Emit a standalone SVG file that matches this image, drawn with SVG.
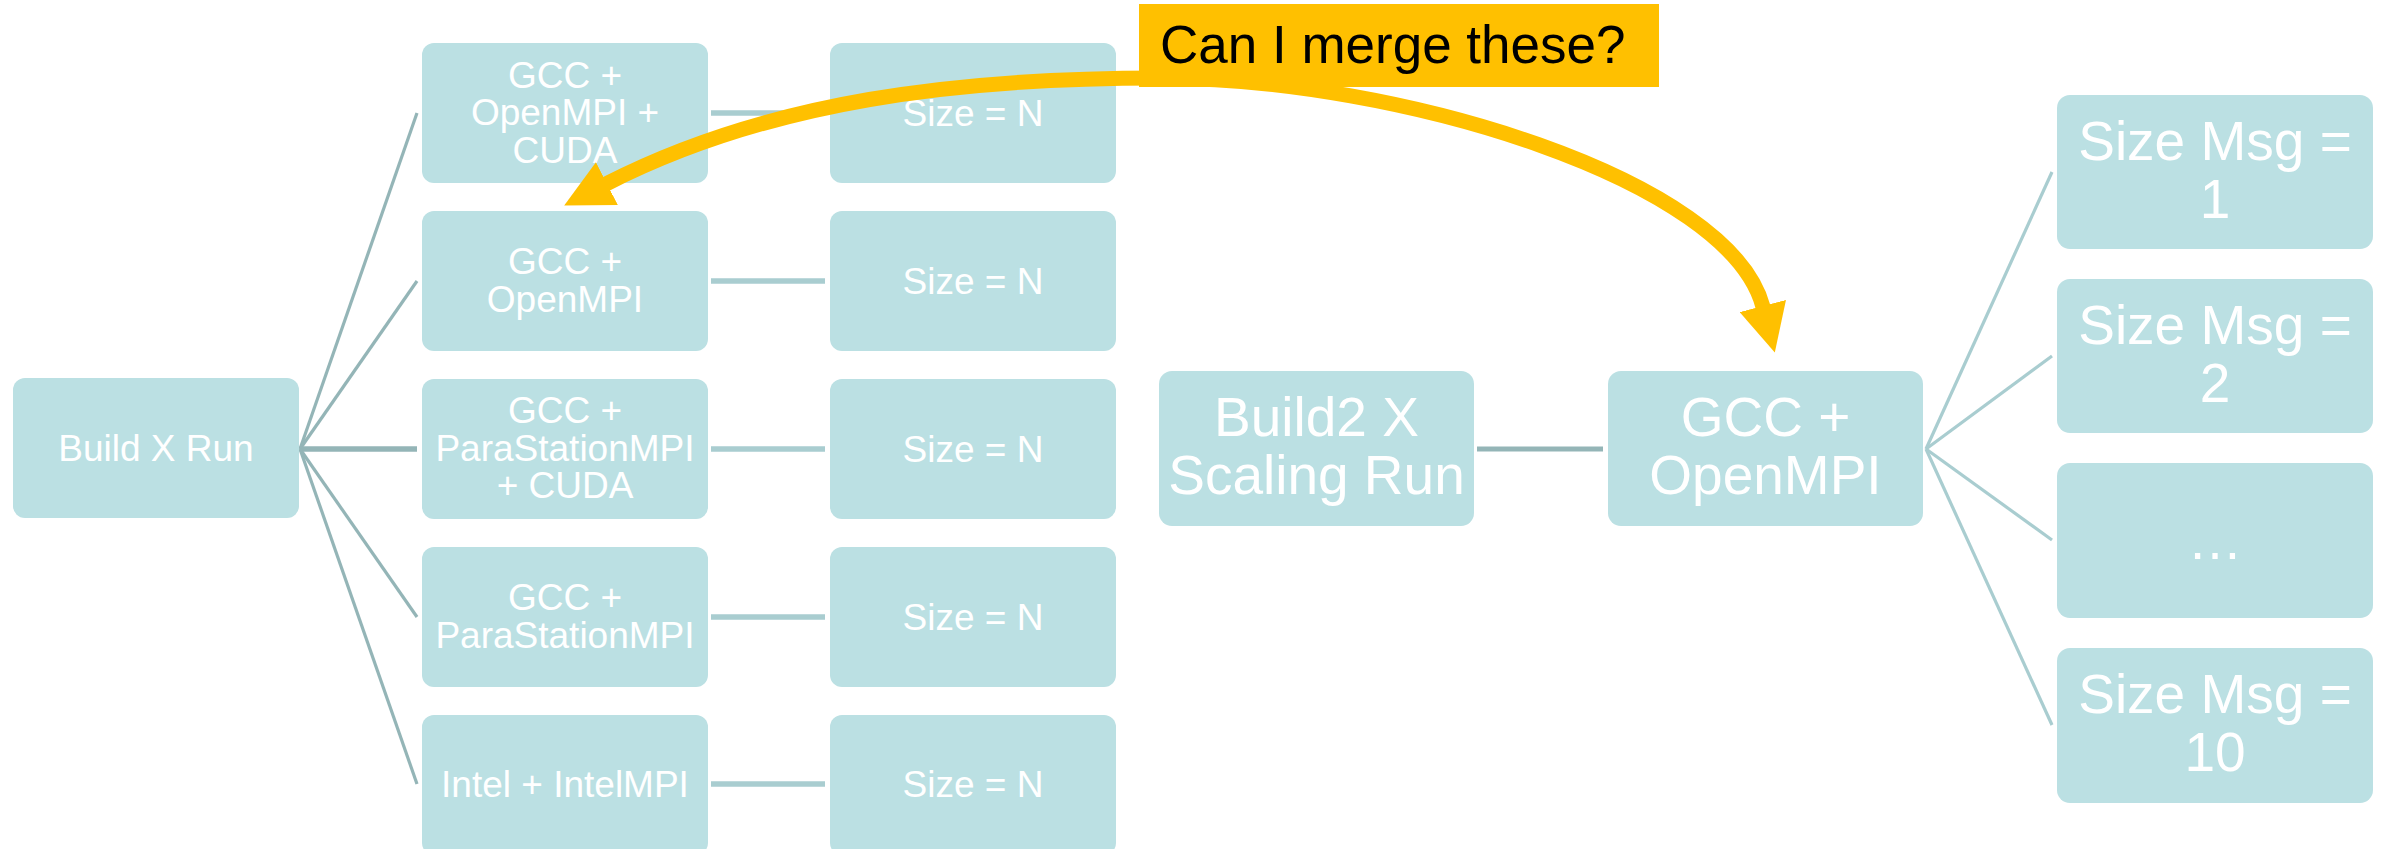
<svg xmlns="http://www.w3.org/2000/svg" width="2387" height="849" viewBox="0 0 2387 849">
<style>
.box{fill:#bbe0e3}
.t{font-family:"Liberation Sans",Arial,sans-serif;fill:#ffffff;text-anchor:middle}
.s{font-size:37px}
.l{font-size:55px}
.dk{stroke:#94b5b7;fill:none}
.lt{stroke:#a9cdd0;fill:none}
.arrow{stroke:#ffc000;stroke-width:15;fill:none}
.lab{font-family:"Liberation Sans",Arial,sans-serif;font-size:53px;fill:#000000}
</style>
<defs>
<marker id="ah" markerUnits="userSpaceOnUse" viewBox="0 0 48 48" refX="1" refY="24" markerWidth="48" markerHeight="48" orient="auto-start-reverse">
<path d="M0,0 L48,24 L0,48 z" fill="#ffc000"/>
</marker>
</defs>
<rect width="2387" height="849" fill="#ffffff"/>

<g id="connectors">
<line class="dk" stroke-width="3.2" x1="300" y1="449" x2="417" y2="113"/>
<line class="dk" stroke-width="3.2" x1="300" y1="449" x2="417" y2="281"/>
<line class="dk" stroke-width="5.5" x1="300" y1="449" x2="417" y2="449"/>
<line class="dk" stroke-width="3.2" x1="300" y1="449" x2="417" y2="617"/>
<line class="dk" stroke-width="3.2" x1="300" y1="449" x2="417" y2="784"/>
<line class="lt" stroke-width="5.5" x1="711" y1="113" x2="825" y2="113"/>
<line class="lt" stroke-width="5.5" x1="711" y1="281" x2="825" y2="281"/>
<line class="lt" stroke-width="5.5" x1="711" y1="449" x2="825" y2="449"/>
<line class="lt" stroke-width="5.5" x1="711" y1="617" x2="825" y2="617"/>
<line class="lt" stroke-width="5.5" x1="711" y1="784" x2="825" y2="784"/>
<line class="dk" stroke-width="5" x1="1477" y1="449" x2="1603" y2="449"/>
<line class="lt" stroke-width="3.2" x1="1926" y1="449" x2="2052" y2="172"/>
<line class="lt" stroke-width="3.2" x1="1926" y1="449" x2="2052" y2="356"/>
<line class="lt" stroke-width="3.2" x1="1926" y1="449" x2="2052" y2="540"/>
<line class="lt" stroke-width="3.2" x1="1926" y1="449" x2="2052" y2="725"/>
</g>

<g id="n-build-x-run"><rect class="box" x="13" y="378" width="286" height="140" rx="12"/><text class="t s" x="156" y="461">Build X Run</text></g>

<g id="n-gcc-ompi-cuda"><rect class="box" x="422" y="43" width="286" height="140" rx="12"/><text class="t s" x="565"><tspan x="565" y="87.5">GCC +</tspan><tspan x="565" y="125">OpenMPI +</tspan><tspan x="565" y="162.5">CUDA</tspan></text></g>
<g id="n-gcc-ompi"><rect class="box" x="422" y="211" width="286" height="140" rx="12"/><text class="t s" x="565"><tspan x="565" y="274">GCC +</tspan><tspan x="565" y="311.5">OpenMPI</tspan></text></g>
<g id="n-gcc-psmpi-cuda"><rect class="box" x="422" y="379" width="286" height="140" rx="12"/><text class="t s" x="565"><tspan x="565" y="423">GCC +</tspan><tspan x="565" y="460.5">ParaStationMPI</tspan><tspan x="565" y="498">+ CUDA</tspan></text></g>
<g id="n-gcc-psmpi"><rect class="box" x="422" y="547" width="286" height="140" rx="12"/><text class="t s" x="565"><tspan x="565" y="610">GCC +</tspan><tspan x="565" y="647.5">ParaStationMPI</tspan></text></g>
<g id="n-intel"><rect class="box" x="422" y="715" width="286" height="140" rx="12"/><text class="t s" x="565" y="797">Intel + IntelMPI</text></g>

<g id="n-size1"><rect class="box" x="830" y="43" width="286" height="140" rx="12"/><text class="t s" x="973" y="126">Size = N</text></g>
<g id="n-size2"><rect class="box" x="830" y="211" width="286" height="140" rx="12"/><text class="t s" x="973" y="294">Size = N</text></g>
<g id="n-size3"><rect class="box" x="830" y="379" width="286" height="140" rx="12"/><text class="t s" x="973" y="462">Size = N</text></g>
<g id="n-size4"><rect class="box" x="830" y="547" width="286" height="140" rx="12"/><text class="t s" x="973" y="630">Size = N</text></g>
<g id="n-size5"><rect class="box" x="830" y="715" width="286" height="140" rx="12"/><text class="t s" x="973" y="797">Size = N</text></g>

<g id="n-build2"><rect class="box" x="1159" y="371" width="315" height="155" rx="13"/><text class="t l"><tspan x="1316.5" y="436">Build2 X</tspan><tspan x="1316.5" y="494">Scaling Run</tspan></text></g>
<g id="n-gcc-ompi-right"><rect class="box" x="1608" y="371" width="315" height="155" rx="13"/><text class="t l"><tspan x="1765.5" y="436">GCC +</tspan><tspan x="1765.5" y="494">OpenMPI</tspan></text></g>

<g id="n-msg1"><rect class="box" x="2057" y="95" width="316" height="154" rx="13"/><text class="t l"><tspan x="2215" y="160">Size Msg =</tspan><tspan x="2215" y="218">1</tspan></text></g>
<g id="n-msg2"><rect class="box" x="2057" y="279" width="316" height="154" rx="13"/><text class="t l"><tspan x="2215" y="344">Size Msg =</tspan><tspan x="2215" y="402">2</tspan></text></g>
<g id="n-msg3"><rect class="box" x="2057" y="463" width="316" height="155" rx="13"/><text class="t l" x="2215" y="559">…</text></g>
<g id="n-msg4"><rect class="box" x="2057" y="648" width="316" height="155" rx="13"/><text class="t l"><tspan x="2215" y="713">Size Msg =</tspan><tspan x="2215" y="771">10</tspan></text></g>

<g id="merge-arrow">
<path class="arrow" d="M606,184 C770,100 960,78 1160,78 C1400,78 1730,180 1763,307" marker-start="url(#ah)" marker-end="url(#ah)"/>
</g>

<g id="n-label"><rect x="1139" y="4" width="520" height="83" fill="#ffc000"/><text class="lab" x="1160" y="63">Can I merge these?</text></g>
</svg>
